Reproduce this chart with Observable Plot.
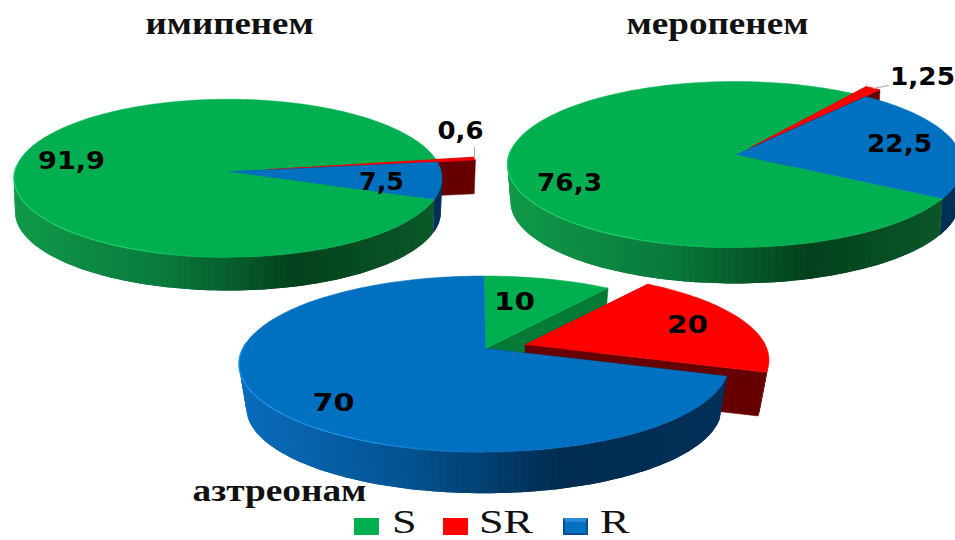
<!DOCTYPE html>
<html lang="ru">
<head>
<meta charset="utf-8">
<script src="https://cdn.jsdelivr.net/npm/d3@7"></script>
<script src="https://cdn.jsdelivr.net/npm/@observablehq/plot@0.6"></script>
<style>
  html, body { margin: 0; padding: 0; background: #fff; overflow: hidden; }
  #page { position: relative; width: 955px; height: 540px; }
  #legend { position: absolute; left: 0; top: 510px; width: 955px; height: 30px; }
  .swatch { position: absolute; top: 8px; width: 25px; height: 17px; box-sizing: border-box; }
  .swatch.bevel { border: 2px solid #0a4f8f; border-top-color: #2f8ad6; box-shadow: inset 0 2px 0 #2a86d4; }
  .key { position: absolute; top: -2.5px; font: 34px/28px "Liberation Serif", serif; color: #111; transform: scaleX(1.3); transform-origin: left top; }
</style>
</head>
<body>
<div id="page"></div>
<script>
// Antibiotic susceptibility shares, percent
const categories = ["S", "SR", "R"];
const imipenem = [91.9, 0.6, 7.5];
const meropenem = [76.3, 1.25, 22.5];
const aztreonam = [10, 20, 70];
const drugNames = ["имипенем", "меропенем", "азтреонам"];

const topColors = ["#00b050", "#ff0000", "#0070c0"];
const faceColors = ["#047a37", "#660000", "#012f55"];
const rimColors = ["#1ccb6b", "#ff4040", "#1f8fe6"];

// Shading across the outer wall, left to right
const wallStops = [0, 0.35, 0.66, 1];
const wallRamps = [
  d3.scaleLinear(wallStops, ["#10994a", "#0a7a3c", "#03411c", "#0c5a2a"]),
  d3.scaleLinear(wallStops, ["#660000", "#660000", "#660000", "#660000"]),
  d3.scaleLinear(wallStops, ["#0a6cbc", "#03528f", "#012c50", "#013058"])
];

// Placement of each disc on the sheet
const discs = [
  {values: imipenem, cx: 227.5, cy: 177.7, rx: 214, ry: 79, apexY: 171, depth: 33.7, shrink: 0.995, turn: 110, pull: [38, -2],
   title: [229, 23, 168], labels: [[71, 160, 67], [381, 181, 45], [460, 130, 46]], leader: [[474, 147], [474, 158]], labelOrder: [0, 2, 1]},
  {values: meropenem, cx: 734.5, cy: 164, rx: 227.5, ry: 83, apexY: 154, depth: 37, shrink: 0.987, turn: 120.3, pull: [14, -7],
   title: [717, 23, 182], labels: [[569, 182, 65], [899, 143, 65], [922, 76, 65]], leader: [[873, 88], [888, 85]], labelOrder: [0, 2, 1]},
  {values: aztreonam, cx: 483.5, cy: 363.5, rx: 245, ry: 88, apexY: 348, depth: 43.9, shrink: 0.97, turn: 0, pull: [40, -4],
   title: [279, 490, 174], labels: [[514, 301, 41], [687, 324, 41], [333, 402, 42]], leader: null, labelOrder: [0, 1, 2]}
];

const rad = Math.PI / 180;
const polygons = [];
const wallStrips = [];
const topRows = [];
const rims = [];
const titleRows = [];
const valueRows = [];
const leaderRows = [];
let nextId = 0;

function addPolygon(target, points, color) {
  const id = nextId++;
  for (const [x, y] of points) target.push({id, x, y, color});
}

discs.forEach((disc, discIndex) => {
  const t = (disc.cy - disc.apexY) / disc.ry;
  const k = Math.sqrt(1 - t * t);

  // A point of the tilted rim for a clockwise angle from twelve o'clock
  const rimPoint = (a) => {
    const u = Math.sin(a), v = Math.cos(a), w = 1 + t * v;
    return [disc.cx + disc.rx * (u * k / w), disc.cy - disc.ry * ((v + t) / w)];
  };
  const lower = ([x, y]) => [
    disc.cx + (x - disc.cx) * disc.shrink,
    disc.cy + (y - disc.cy) * disc.shrink + disc.depth
  ];
  const shift = (p, d) => [p[0] + d[0], p[1] + d[1]];
  const apexTop = [disc.cx + 1.5, disc.apexY];
  const pulled = categories.indexOf("SR");

  const start = disc.turn * rad;
  const slices = d3.pie().sort(null).startAngle(start).endAngle(start + 2 * Math.PI)(disc.values);
  const offsets = slices.map((_, i) => (i === pulled ? disc.pull : [0, 0]));

  const arcAngles = (s) => {
    const n = Math.max(2, Math.ceil((s.endAngle - s.startAngle) / (1.5 * rad)));
    return d3.range(n + 1).map((j) => s.startAngle + (s.endAngle - s.startAngle) * j / n);
  };

  // Cut faces next to the pulled slice
  slices.forEach((s, i) => {
    const off = offsets[i];
    const apex = shift(apexTop, off);
    const edges = [];
    if (i === pulled) edges.push(s.startAngle, s.endAngle);
    else if (i + 1 === pulled) edges.push(s.endAngle);
    else if (i - 1 === pulled) edges.push(s.startAngle);
    for (const a of edges) {
      const p = shift(rimPoint(a), off);
      addPolygon(polygons, [apex, p, lower(p), lower(apex), apex], faceColors[i]);
    }
  });

  // Outer wall: each strip runs under the next one, so the joins stay hidden
  slices.forEach((s, i) => {
    const off = offsets[i];
    const angles = arcAngles(s);
    for (let j = 0; j + 1 < angles.length; j++) {
      const a = shift(rimPoint(angles[j]), off);
      const far = Math.min(j + 2, angles.length - 1);
      const b = shift(rimPoint(angles[far]), off);
      const mid = shift(rimPoint(angles[j + 1]), off);
      if (a[1] < disc.cy - 1 && mid[1] < disc.cy - 1) continue;
      const f = ((a[0] + mid[0]) / 2 - (disc.cx - disc.rx)) / (2 * disc.rx);
      addPolygon(wallStrips, [a, mid, b, lower(b), lower(mid), lower(a), a], wallRamps[i](Math.min(1, f)));
    }
  });

  // Top surfaces
  slices.forEach((s, i) => {
    const off = offsets[i];
    const apex = shift(apexTop, off);
    addPolygon(topRows, [apex, ...arcAngles(s).map((a) => shift(rimPoint(a), off)), apex], topColors[i]);
  });

  // Light bevel along the front left of the largest slice
  const largest = d3.greatestIndex(disc.values);
  const fade = d3.scaleLinear([180 * rad, 205 * rad, 275 * rad], [topColors[largest], rimColors[largest], rimColors[largest]]);
  const rimAngles = d3.range(180, 276, 2).map((d) => d * rad);
  rimAngles.slice(0, -1).forEach((a, j) => {
    const id = nextId++;
    const color = fade(a);
    for (const p of [rimPoint(a), rimPoint(rimAngles[j + 1])]) rims.push({id, x: p[0], y: p[1], color});
  });

  // Texts
  titleRows.push({x: disc.title[0], y: disc.title[1], text: drugNames[discIndex], width: disc.title[2]});
  disc.labels.forEach(([x, y, width], j) => {
    const value = disc.values[disc.labelOrder[j]];
    valueRows.push({x, y, width, text: String(value).replace(".", ",")});
  });
  if (disc.leader) {
    const id = discIndex;
    for (const [x, y] of disc.leader) leaderRows.push({id, x, y});
  }
});

const chart = Plot.plot({
  width: 955,
  height: 510,
  margin: 0,
  x: {domain: [0, 955], range: [0, 955], axis: null},
  y: {domain: [0, 510], range: [0, 510], axis: null},
  color: {type: "identity"},
  style: {background: "#fff"},
  marks: [
    Plot.line(polygons, {x: "x", y: "y", z: "id", fill: "color", stroke: "color", strokeWidth: 0.5, curve: "linear"}),
    Plot.line(wallStrips, {x: "x", y: "y", z: "id", fill: "color", curve: "linear", stroke: null}),
    Plot.line(topRows, {x: "x", y: "y", z: "id", fill: "color", stroke: "color", strokeWidth: 0.5, curve: "linear"}),
    Plot.line(rims, {x: "x", y: "y", z: "id", stroke: "color", strokeWidth: 1.3, curve: "linear"}),
    Plot.line(leaderRows, {x: "x", y: "y", z: "id", stroke: "#a6a6a6", strokeWidth: 1}),
    Plot.text(titleRows, {x: "x", y: "y", text: "text", fontFamily: "Liberation Serif", fontWeight: "bold", fontSize: 32, fill: "#111", className: "drug-title"}),
    Plot.text(valueRows, {x: "x", y: "y", text: "text", fontFamily: "DejaVu Sans", fontWeight: "bold", fontSize: 25, fill: "#000", className: "value-label"})
  ]
});

// The lettering on this sheet runs wider than the fonts' natural proportions
d3.select(chart).selectAll(".drug-title text")
  .attr("textLength", (_, i) => titleRows[i].width).attr("lengthAdjust", "spacingAndGlyphs");
d3.select(chart).selectAll(".value-label text")
  .attr("textLength", (_, i) => valueRows[i].width).attr("lengthAdjust", "spacingAndGlyphs");

const page = document.getElementById("page");
page.appendChild(chart);

// Legend under the chart
const legend = d3.select(page).append("div").attr("id", "legend");
const swatchLeft = [354, 443, 563];
const keyLeft = [392, 479, 600];
categories.forEach((name, i) => {
  legend.append("div").attr("class", "swatch" + (name === "R" ? " bevel" : ""))
    .style("left", swatchLeft[i] + "px").style("background", topColors[i]);
  legend.append("div").attr("class", "key").style("left", keyLeft[i] + "px").text(name);
});
</script>
</body>
</html>
